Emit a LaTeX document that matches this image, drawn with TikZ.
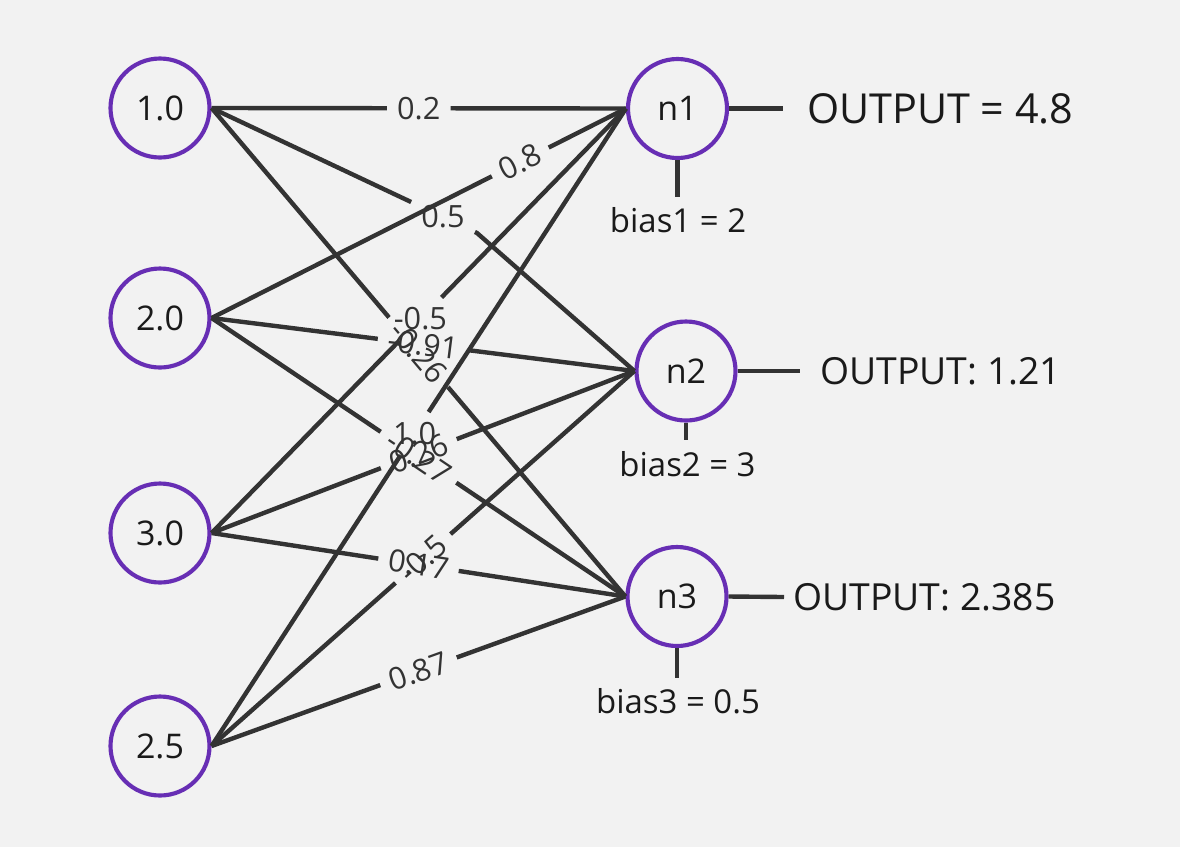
\documentclass[tikz,border=0pt]{standalone}
\usepackage{fontspec}
\setmainfont{Open Sans}
\usetikzlibrary{calc}
\definecolor{bgc}{RGB}{242,242,242}
\definecolor{edgec}{RGB}{51,51,51}
\definecolor{ringc}{RGB}{103,46,180}
\definecolor{txtc}{RGB}{26,26,26}
\begin{document}
\begin{tikzpicture}[x=0.75pt,y=-0.75pt,
  unit/.style={circle,draw=ringc,line width=3.1pt,fill=bgc,minimum size=74.25pt,inner sep=0pt,text=txtc,font=\fontsize{25.5}{30}\selectfont},
  wlabel/.style={inner sep=7.5pt,text=edgec,font=\fontsize{23}{27}\selectfont},
  wire/.style={draw=edgec,line width=3.3pt,line join=round},
  outtext/.style={anchor=west,inner sep=0pt,text=txtc},
  biastext/.style={inner sep=0pt,text=txtc,font=\fontsize{24.7}{29}\selectfont}]
\fill[bgc] (0,0) rectangle (1180,847);
\useasboundingbox (0,0) rectangle (1180,847);

% units
\node[unit] (i1) at (160,108) {1.0};
\node[unit] (i2) at (160,318) {2.0};
\node[unit] (i3) at (160,533) {3.0};
\node[unit] (i4) at (160,746) {2.5};
\node[unit] (n1) at (677.5,108.5) {n1};
\node[unit] (n2) at (686,371) {n2};
\node[unit] (n3) at (677,596.5) {n3};

% weight labels
\path (i1.east) -- node[wlabel,pos=0.5] (w11) {0.2} (n1.west);
\path (i2.east) -- node[wlabel,sloped,pos=0.745] (w12) {0.8} (n1.west);
\path (i3.east) -- node[wlabel,pos=0.504] (w13) {-0.5} (n1.west);
\path (i4.east) -- node[wlabel,pos=0.49] (w14) {1.0} (n1.west);

\coordinate (bend) at (477,233);
\path (i1.east) -- node[wlabel,pos=0.872] (w21) {0.5} (bend);
\path (i2.east) -- node[wlabel,sloped,pos=0.5] (w22) {-0.91} (n2.west);
\path (i3.east) -- node[wlabel,sloped,pos=0.49] (w23) {0.26} (n2.west);
\path (i4.east) -- node[wlabel,sloped,pos=0.5] (w24) {-0.5} (n2.west);

\path (i1.east) -- node[wlabel,sloped,pos=0.5] (w31) {-0.26} (n3.west);
\path (i2.east) -- node[wlabel,sloped,pos=0.5] (w32) {-0.27} (n3.west);
\path (i3.east) -- node[wlabel,sloped,pos=0.5] (w33) {0.17} (n3.west);
\path (i4.east) -- node[wlabel,sloped,pos=0.5] (w34) {0.87} (n3.west);

% connectors
\draw[wire] (i1.east) -- (w11) (w11) -- (n1.west);
\draw[wire] (i2.east) -- (w12) (w12) -- (n1.west);
\draw[wire] (i3.east) -- (w13) (w13) -- (n1.west);
\draw[wire] (i4.east) -- (w14) (w14) -- (n1.west);

\draw[wire] (i1.east) -- (w21);
\draw[wire] (w21) -- (bend) -- (n2.west);
\draw[wire] (i2.east) -- (w22) (w22) -- (n2.west);
\draw[wire] (i3.east) -- (w23) (w23) -- (n2.west);
\draw[wire] (i4.east) -- (w24) (w24) -- (n2.west);

\draw[wire] (i1.east) -- (w31) (w31) -- (n3.west);
\draw[wire] (i2.east) -- (w32) (w32) -- (n3.west);
\draw[wire] (i3.east) -- (w33) (w33) -- (n3.west);
\draw[wire] (i4.east) -- (w34) (w34) -- (n3.west);

% outputs
\coordinate (o1end) at (783,108.5);
\coordinate (o2end) at (800,371);
\coordinate (o3end) at (784,597);
\draw[wire] (n1.east) -- (o1end);
\draw[wire] (n2.east) -- (o2end);
\draw[wire] (n3.east) -- (o3end);
\node[outtext,font=\fontsize{31}{36}\selectfont] (out1) at (807,109) {OUTPUT = 4.8};
\node[outtext,font=\fontsize{28}{33}\selectfont] (out2) at (820,371) {OUTPUT: 1.21};
\node[outtext,font=\fontsize{28}{33}\selectfont] (out3) at (793,597) {OUTPUT: 2.385};

% biases
\coordinate (b1end) at (677.5,197);
\coordinate (b2end) at (686,440);
\coordinate (b3end) at (677,678);
\draw[wire] (n1.south) -- (b1end);
\draw[wire] (n2.south) -- (b2end);
\draw[wire] (n3.south) -- (b3end);
\node[biastext] (bias1) at (678,220.5) {bias1 = 2};
\node[biastext] (bias2) at (687.5,464.5) {bias2 = 3};
\node[biastext] (bias3) at (678,701.5) {bias3 = 0.5};
\end{tikzpicture}
\end{document}
